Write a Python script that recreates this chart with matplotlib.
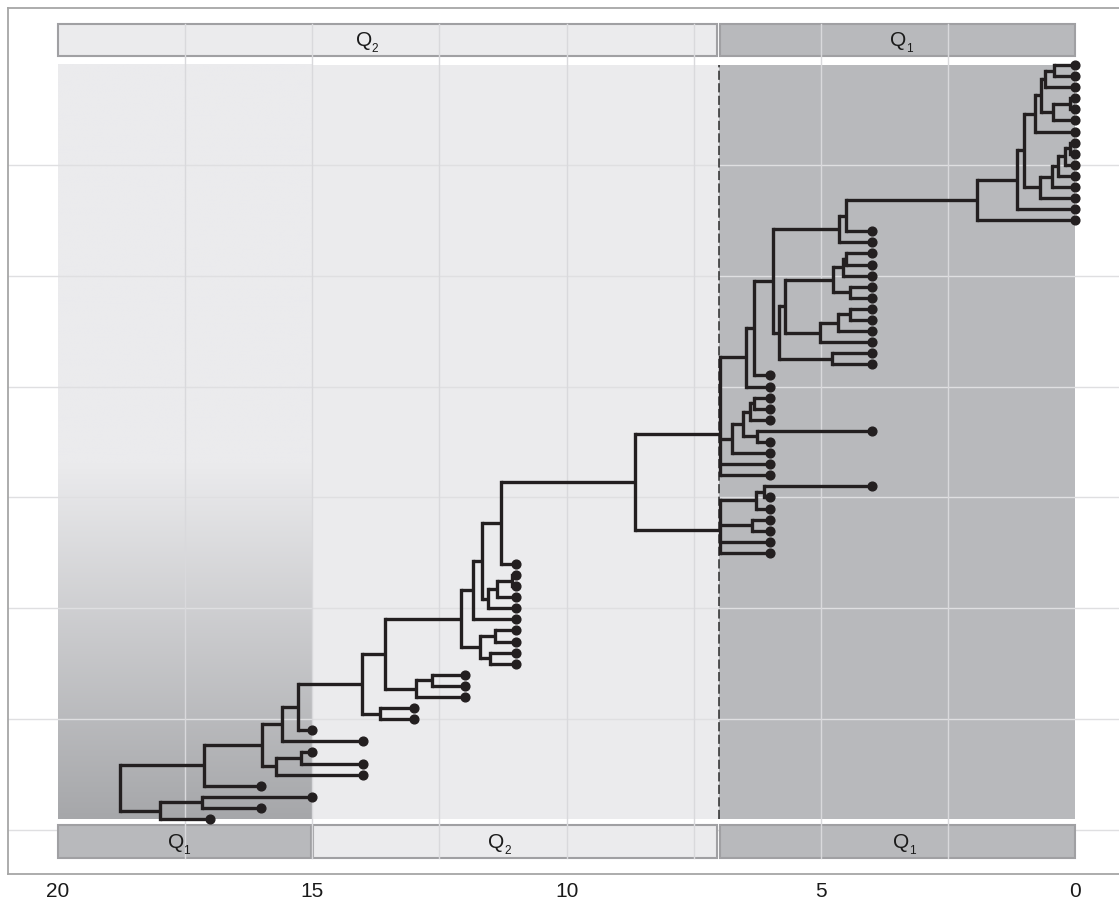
import numpy as np
import matplotlib
matplotlib.use("Agg")
import matplotlib.pyplot as plt
from matplotlib.patches import Rectangle
from matplotlib.collections import LineCollection

plt.rcParams['font.family'] = ['Liberation Sans', 'DejaVu Sans']

# tip ages (Ma), tips listed top to bottom
tip_age = [0, 0, 0, 0, 0, 0, 0, 0, 0, 0, 0, 0, 0, 0, 0,
           4, 4, 4, 4, 4, 4, 4, 4, 4, 4, 4, 4, 4,
           6, 6, 6, 6, 6, 4, 6, 6, 6, 6, 4, 6, 6, 6, 6, 6, 6,
           11, 11, 11, 11, 11, 11, 11, 11, 11, 11,
           12, 12, 12, 13, 13,
           15, 14, 15, 14, 14, 16, 15, 16, 17]

# internal nodes: name, age (Ma), children (tip index or node name)
nodes = [
    ("a1", 0.42, [0, 1]), ("a2", 0.60, ["a1", 2]),
    ("a3", 0.11, [3, 4]), ("a4", 0.44, ["a3", 5]),
    ("a5", 0.68, ["a2", "a4"]), ("a6", 0.80, ["a5", 6]),
    ("a7", 0.11, [7, 8]), ("a8", 0.21, ["a7", 9]),
    ("a9", 0.34, ["a8", 10]), ("a10", 0.47, ["a9", 11]),
    ("a11", 0.70, ["a10", 12]), ("a12", 1.01, ["a6", "a11"]),
    ("a13", 1.14, ["a12", 13]), ("a14", 1.93, ["a13", 14]),
    ("b1", 4.50, ["a14", 15]), ("b2", 4.65, ["b1", 16]),
    ("c1", 4.50, [17, 18]), ("c2", 4.57, ["c1", 19]),
    ("c3", 4.43, [20, 21]), ("c4", 4.77, ["c2", "c3"]),
    ("c5", 4.43, [22, 23]), ("c6", 4.66, ["c5", 24]),
    ("c7", 5.02, ["c6", 25]), ("c8", 5.71, ["c4", "c7"]),
    ("c9", 4.78, [26, 27]), ("c10", 5.83, ["c8", "c9"]),
    ("b3", 5.95, ["b2", "c10"]), ("b4", 6.32, ["b3", 28]),
    ("b5", 6.48, ["b4", 29]),
    ("d1", 6.31, [30, 31]), ("d2", 6.40, ["d1", 32]),
    ("d3", 6.25, [33, 34]), ("d4", 6.54, ["d2", "d3"]),
    ("d5", 6.74, ["d4", 35]),
    ("p1", 6.99, ["b5", "d5", 36, 37]),
    ("e1", 6.13, [38, 39]), ("e2", 6.28, ["e1", 40]),
    ("e3", 6.35, [41, 42]),
    ("p2", 6.99, ["e2", "e3", 43, 44]),
    ("r8", 8.66, ["p1", "p2"]),
    ("f0", 11.28, ["r8", 45]),
    ("f1", 11.07, [46, 47]), ("f2", 11.37, ["f1", 48]),
    ("f3", 11.54, ["f2", 49]), ("f4", 11.67, ["f0", "f3"]),
    ("f5", 11.83, ["f4", 50]),
    ("g1", 11.41, [51, 52]), ("g2", 11.51, [53, 54]),
    ("g3", 11.70, ["g1", "g2"]), ("f6", 12.07, ["f5", "g3"]),
    ("h1", 12.65, [55, 56]), ("h2", 12.95, ["h1", 57]),
    ("f7", 13.57, ["f6", "h2"]),
    ("h3", 13.67, [58, 59]), ("f8", 14.03, ["f7", "h3"]),
    ("f9", 15.28, ["f8", 60]), ("f10", 15.60, ["f9", 61]),
    ("k1", 15.22, [62, 63]), ("k2", 15.71, ["k1", 64]),
    ("f11", 15.99, ["f10", "k2"]), ("f12", 17.12, ["f11", 65]),
    ("m1", 17.17, [66, 67]), ("m2", 17.99, ["m1", 68]),
    ("root", 18.78, ["f12", "m2"]),
]

# stage bands (Ma)
top_band_lo = [7.04, 0.0]
top_band_hi = [20.0, 6.98]
top_band_sub = ["2", "1"]
top_band_labx = [13.9, 3.4]
bot_band_lo = [15.03, 7.04, 0.0]
bot_band_hi = [20.0, 14.98, 6.98]
bot_band_sub = ["1", "2", "1"]
bot_band_labx = [17.6, 11.3, 3.35]
boundary = 7.0
x_ticks = [20, 15, 10, 5, 0]

light = '#ebebed'
dark = '#b8b9bc'
ink = '#231f20'

W, H = 1119, 901
fig = plt.figure(figsize=(W / 100, H / 100), dpi=100)
ax = fig.add_axes([8 / W, 27 / H, 1117 / W, 866 / H])

n_tip = len(tip_age)
pos = {i: (tip_age[i], n_tip - i) for i in range(n_tip)}
for name, age, kids in nodes:
    pos[name] = (age, np.mean([pos[k][1] for k in kids]))

y_lo, y_hi = 1, n_tip

# panel backgrounds
ax.add_patch(Rectangle((boundary, y_lo), 20 - boundary, y_hi - y_lo, fc=light, ec='none', zorder=1))
ax.add_patch(Rectangle((0, y_lo), boundary, y_hi - y_lo, fc=dark, ec='none', zorder=1))
# shaded gradient in the oldest part
gy = np.linspace(y_hi, y_lo, 400)
t = np.clip((33 - gy) / 32, 0, 1)
c0 = np.array([0xeb, 0xeb, 0xed]) / 255
c1 = np.array([0xa6, 0xa7, 0xaa]) / 255
grad = (c0[None, :] + t[:, None] * (c1 - c0)[None, :])[:, None, :]
ax.imshow(grad, extent=(20, 15, y_lo, y_hi), aspect='auto', interpolation='bilinear', zorder=1.1)

# horizontal grid lines
for gyv in range(0, 70, 10):
    ax.axhline(gyv, color='#dfdfe1', lw=1.0, zorder=1.2)


def band_label(x, y, sub):
    # "Q" with a small lowered subscript, centred as a whole on x
    ax.annotate("Q", (x, y), xytext=(-3.0, 0), textcoords='offset points',
                ha='center', va='baseline', fontsize=15, color='#1a1a1a', zorder=4)
    ax.annotate(sub, (x, y), xytext=(2.6, -4.0), textcoords='offset points',
                ha='left', va='baseline', fontsize=8.5, color='#1a1a1a', zorder=4)


# strips
top_y0, top_y1 = 69.77, 72.74
bot_y0, bot_y1 = -2.56, 0.42
for lo, hi, sub, lx in zip(top_band_lo, top_band_hi, top_band_sub, top_band_labx):
    fc = light if sub == "2" else dark
    ax.add_patch(Rectangle((lo, top_y0), hi - lo, top_y1 - top_y0, fc=fc, ec='#a0a0a3', lw=1.5, zorder=1.5))
    band_label(lx, (top_y0 + top_y1) / 2 - 0.55, sub)
for lo, hi, sub, lx in zip(bot_band_lo, bot_band_hi, bot_band_sub, bot_band_labx):
    fc = light if sub == "2" else dark
    ax.add_patch(Rectangle((lo, bot_y0), hi - lo, bot_y1 - bot_y0, fc=fc, ec='#a0a0a3', lw=1.5, zorder=1.5))
    band_label(lx, (bot_y0 + bot_y1) / 2 - 0.55, sub)

# vertical grid lines
for gx in np.arange(2.5, 20, 2.5):
    ax.plot([gx, gx], [bot_y0, top_y1], color='#d9d9dc', lw=1.0, zorder=1.6)

# boundary line
ax.plot([boundary, boundary], [y_lo, y_hi], color='#2b2b2b', lw=1.1, dashes=(6, 2.2), zorder=2.5)

# tree
vert, horiz = [], []
for name, age, kids in nodes:
    ys = [pos[k][1] for k in kids]
    vert.append([(age, min(ys)), (age, max(ys))])
    for k in kids:
        horiz.append([(age, pos[k][1]), (pos[k][0], pos[k][1])])
ax.add_collection(LineCollection(vert, colors=ink, linewidths=2.4, capstyle='projecting', zorder=3))
ax.add_collection(LineCollection(horiz, colors=ink, linewidths=2.4, capstyle='butt', zorder=3))
ax.plot([pos[i][0] for i in range(n_tip)], [pos[i][1] for i in range(n_tip)], 'o',
        color=ink, ms=6.3, zorder=3.5, clip_on=False)

ax.set_xlim(20.977, -0.973)
ax.set_ylim(-3.96, 74.14)
ax.set_xticks(x_ticks)
ax.set_xticklabels([str(v) for v in x_ticks])
ax.set_yticks([])
ax.tick_params(axis='x', length=0, pad=6, labelsize=15, labelcolor='#1a1a1a')
for s in ax.spines.values():
    s.set_color('#a6a6a6')
    s.set_linewidth(1.3)
ax.set_facecolor('white')

fig.savefig('out.png', dpi=100)
